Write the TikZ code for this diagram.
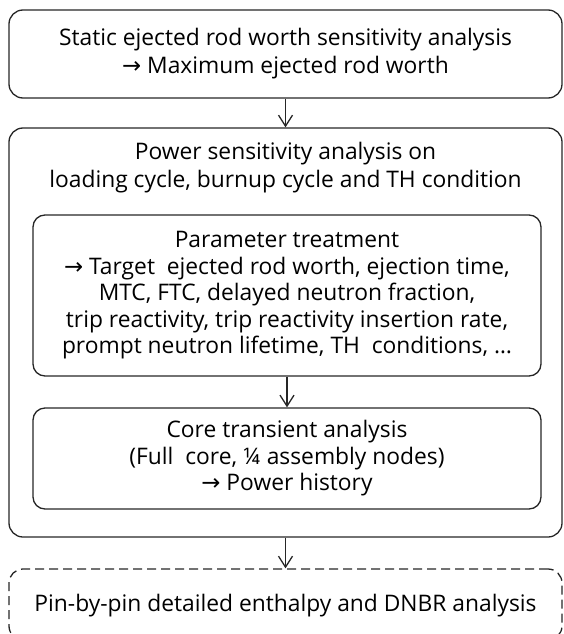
\documentclass[tikz,border=0pt]{standalone}
\usepackage{fontspec}
\setmainfont{Open Sans}
\newfontfamily\symf{DejaVu Sans}
\usetikzlibrary{arrows.meta}
\newcommand{\ra}{{\symf →}}
\begin{document}
\begin{tikzpicture}[x=1pt,y=-1pt,
  box/.style={draw=black!85,line width=1.3pt,rounded corners=14pt,align=center,inner sep=0pt,
    font=\fontsize{22.8}{26.5}\selectfont},
  txt/.style={align=center,inner sep=0pt,font=\fontsize{22.8}{28}\selectfont},
  flow/.style={draw=black!85,line width=1.3pt,-{Straight Barb[length=11pt,width=14pt,line width=1.3pt]}}]
\useasboundingbox (0,0) rectangle (563,634);
\clip (0,0) rectangle (563,634);
\node[box,minimum width=553pt,minimum height=88pt,font=\fontsize{22.8}{28}\selectfont] (top) at (285.5,54)
  {Static ejected rod worth sensitivity analysis\\ \ra{} Maximum ejected rod worth};
\node[box,minimum width=553pt,minimum height=409pt] (outer) at (285.5,332.5) {};
\node[txt] (outertitle) at (285.5,168)
  {Power sensitivity analysis on\\ loading cycle, burnup cycle and TH condition};
\node[box,rounded corners=12pt,minimum width=508pt,minimum height=161pt] (inner1) at (287,295.5)
  {Parameter treatment\\ \ra{} Target~ ejected rod worth, ejection time,\\ MTC, FTC, delayed neutron fraction,\\ trip reactivity, trip reactivity insertion rate,\\ prompt neutron lifetime, TH~ conditions, \dots};
\node[box,rounded corners=12pt,minimum width=508pt,minimum height=101pt] (inner2) at (287,458.5)
  {Core transient analysis\\ (Full~ core, ¼ assembly nodes)\\ \ra{} Power history};
\node[box,dash pattern=on 9pt off 5pt,minimum width=553pt,minimum height=71pt,text depth=0pt] (pin) at (285.5,604.5)
  {\raisebox{3pt}{Pin-by-pin detailed enthalpy and DNBR analysis}};
\draw[flow] (top.south) -- (outer.north);
\draw[flow] (inner1.south) -- (inner2.north);
\draw[flow] (outer.south) -- (pin.north);
\end{tikzpicture}
\end{document}
